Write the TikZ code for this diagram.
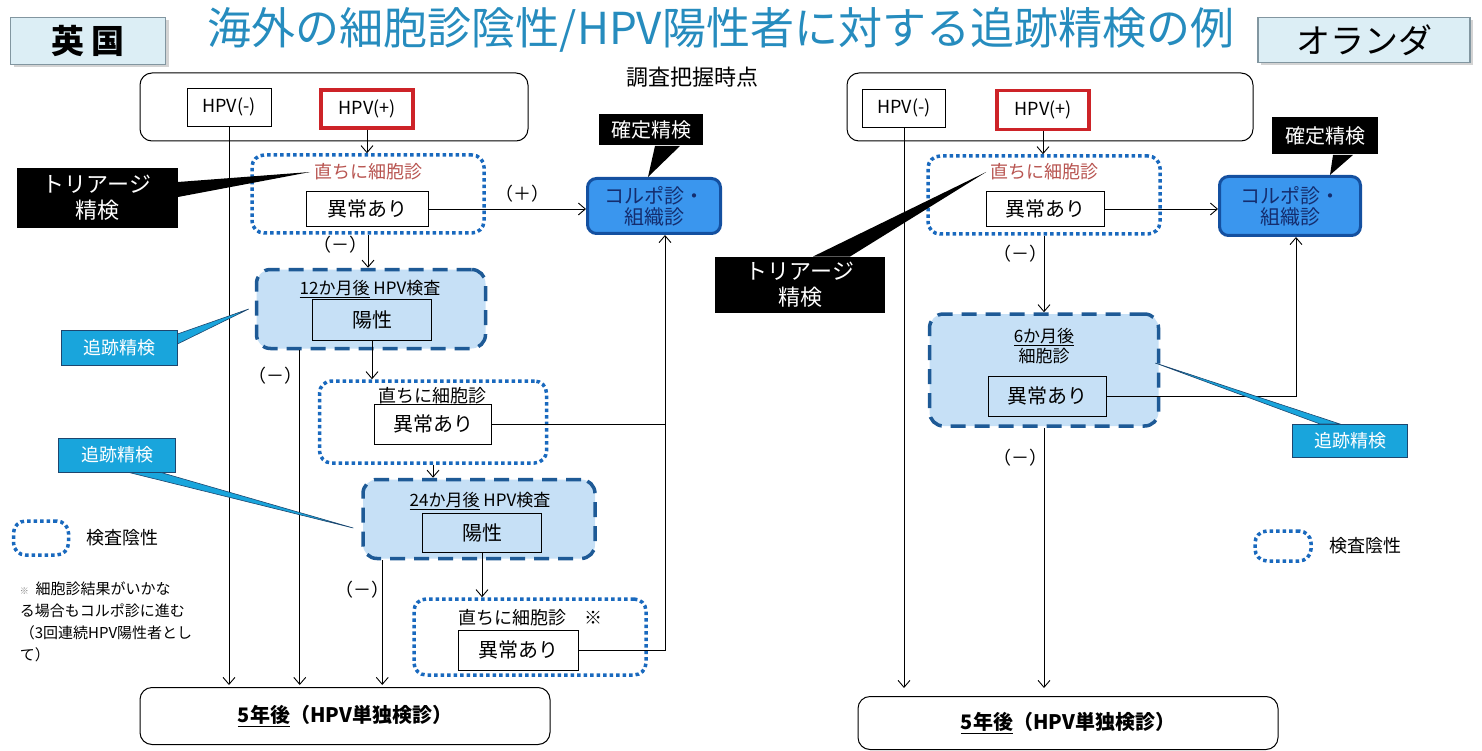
\documentclass[tikz,border=0pt]{standalone}
\usepackage{fontspec}
\setmainfont{Noto Sans CJK JP}
\usetikzlibrary{arrows.meta,shadows}
\definecolor{titleblue}{RGB}{38,140,190}
\definecolor{ctryfill}{RGB}{220,238,245}
\definecolor{ctryline}{RGB}{130,150,160}
\definecolor{dotblue}{RGB}{25,105,190}
\definecolor{dashblue}{RGB}{30,90,150}
\definecolor{dashfill}{RGB}{198,224,246}
\definecolor{colpofill}{RGB}{58,150,238}
\definecolor{colpoline}{RGB}{20,80,160}
\definecolor{colpotext}{RGB}{20,45,110}
\definecolor{trackcyan}{RGB}{25,165,220}
\definecolor{trackline}{RGB}{30,70,110}
\definecolor{hpvred}{RGB}{205,35,40}
\definecolor{cytored}{RGB}{184,84,80}

\begin{document}
\begin{tikzpicture}[x=1pt,y=-1pt,line width=0.9pt,
  >={Straight Barb[length=7pt,width=12pt]},
  ctry/.style={draw=ctryline,fill=ctryfill,line width=1.2pt,
    drop shadow={shadow xshift=3pt,shadow yshift=-3pt,opacity=0.35}},
  frame/.style={draw,rounded corners=12pt,line width=1pt},
  box/.style={draw,fill=white,inner sep=0pt,font=\fontsize{20}{24}\selectfont},
  small/.style={font=\fontsize{18}{22}\selectfont},
  dotbox/.style={draw=dotblue,fill=white,line width=3.5pt,
    dash pattern=on 3.5pt off 3pt,rounded corners=12pt},
  dashbox/.style={draw=dashblue,fill=dashfill,line width=3.5pt,
    dash pattern=on 15pt off 9pt,rounded corners=14pt},
  colpo/.style={draw=colpoline,fill=colpofill,line width=3pt,rounded corners=9pt,
    text=colpotext,align=center,font=\fontsize{20}{21}\selectfont},
  blackbox/.style={fill=black,text=white,align=center,inner sep=0pt},
  track/.style={draw=trackline,fill=trackcyan,text=white,line width=1pt,
    inner sep=0pt,font=\fontsize{18}{22}\selectfont},
  lbl/.style={font=\fontsize{18}{22}\selectfont}]
\useasboundingbox (0,0) rectangle (1482,751);

% heading
\node[ctry,minimum width=155,minimum height=47,font=\fontsize{33}{36}\selectfont\bfseries] (uk) at (88,41) {英 国};
\node[ctry,minimum width=212,minimum height=45,font=\fontsize{34}{37}\selectfont] (nl) at (1364,40) {オランダ};
\node[text=titleblue,font=\fontsize{44}{48}\selectfont] (title) at (721,30) {海外の細胞診陰性/HPV陽性者に対する追跡精検の例};
\node[font=\fontsize{22}{24}\selectfont] (survey) at (692,77) {調査把握時点};

% UK
\node[frame,minimum width=388,minimum height=68] (top1) at (334,107) {};
\node[box,small,minimum width=84,minimum height=38] (hpvm1) at (229,107) {HPV(-)};
\node[box,small,draw=hpvred,line width=3.5pt,minimum width=92,minimum height=38] (hpvp1) at (367,109) {HPV(+)};
\node[dotbox,minimum width=232,minimum height=78] (dot1) at (368,194) {};
\node[lbl,text=cytored] (cyto1) at (368,172) {直ちに細胞診};
\node[box,minimum width=122,minimum height=35] (ijo1) at (367,209) {異常あり};
\node[colpo,minimum width=133,minimum height=55] (colpo1) at (654,206) {コルポ診・\\組織診};
\node[blackbox,minimum width=104,minimum height=31,font=\fontsize{20}{22}\selectfont] (conf1) at (651,130) {確定精検};
\node[blackbox,minimum width=161,minimum height=60,font=\fontsize{22}{26}\selectfont] (tri1) at (97,198) {トリアージ\\精検};
\node[lbl] (plus1) at (522,194) {（＋）};
\node[lbl] (minus1) at (340,245) {（－）};

\node[dashbox,minimum width=229,minimum height=79] (yr12) at (371,309) {};
\node[font=\fontsize{17}{20}\selectfont] (yr12t) at (370,289) {\underline{12か月後} HPV検査};
\node[box,fill=dashfill,minimum width=119,minimum height=41] (yos1) at (372,320) {陽性};
\node[track,minimum width=116,minimum height=35] (trk1) at (119,348) {追跡精検};
\node[lbl] (minus2) at (275,376) {（－）};

\node[dotbox,minimum width=227,minimum height=82] (dot2) at (433,422) {};
\node[lbl] (cyto2) at (432,396) {直ちに細胞診};
\node[box,minimum width=117,minimum height=40] (ijo2) at (433,424) {異常あり};

\node[dashbox,minimum width=232,minimum height=79] (yr24) at (479,519) {};
\node[font=\fontsize{17}{20}\selectfont] (yr24t) at (480,501) {\underline{24か月後} HPV検査};
\node[box,fill=dashfill,minimum width=119,minimum height=39] (yos2) at (482,533) {陽性};
\node[track,minimum width=117,minimum height=34] (trk2) at (117,455) {追跡精検};
\node[lbl] (minus3) at (362,590) {（－）};

\node[dotbox,minimum width=232,minimum height=76] (dot3) at (530,637) {};
\node[lbl] (cyto3) at (530,618) {直ちに細胞診　※};
\node[box,minimum width=120,minimum height=40] (ijo3) at (518,650) {異常あり};

\node[frame,minimum width=410,minimum height=57,font=\fontsize{20}{24}\selectfont\bfseries] (five1) at (345,716) {\underline{5年後}（HPV単独検診）};

\node[dotbox,minimum width=55,minimum height=34] (leg1) at (41,538) {};
\node[lbl] (leg1t) at (122,538) {検査陰性};
\node[anchor=north west,align=left,font=\fontsize{15}{22}\selectfont] (note) at (16,578)
  {{\color{gray}\fontsize{9}{22}\selectfont ※}\ \ 細胞診結果がいかな\\る場合もコルポ診に進む\\（3回連続HPV陽性者とし\\て）};

% Netherlands
\node[frame,minimum width=406,minimum height=68] (top2) at (1050,107) {};
\node[box,small,minimum width=83,minimum height=38] (hpvm2) at (904,108) {HPV(-)};
\node[box,small,draw=hpvred,line width=3.5pt,minimum width=92,minimum height=39] (hpvp2) at (1043,110) {HPV(+)};
\node[dotbox,minimum width=232,minimum height=78] (dot4) at (1044,195) {};
\node[lbl,text=cytored] (cyto4) at (1044,172) {直ちに細胞診};
\node[box,minimum width=118,minimum height=35] (ijo4) at (1045,209) {異常あり};
\node[colpo,minimum width=141,minimum height=59] (colpo2) at (1290,206) {コルポ診・\\組織診};
\node[blackbox,minimum width=106,minimum height=37,font=\fontsize{20}{22}\selectfont] (conf2) at (1325,136) {確定精検};
\node[blackbox,minimum width=170,minimum height=56,font=\fontsize{22}{26}\selectfont] (tri2) at (800,285) {トリアージ\\精検};
\node[lbl] (minus4) at (1020,254) {（－）};

\node[dashbox,minimum width=229,minimum height=112] (m6) at (1044,370) {};
\node[align=center,font=\fontsize{17}{20}\selectfont] (m6t) at (1044,346) {\underline{6か月後}\\細胞診};
\node[box,fill=dashfill,minimum width=118,minimum height=40] (ijo5) at (1047,396) {異常あり};
\node[track,minimum width=115,minimum height=33] (trk3) at (1350,441) {追跡精検};
\node[lbl] (minus5) at (1020,458) {（－）};

\node[frame,minimum width=420,minimum height=53,font=\fontsize{20}{24}\selectfont\bfseries] (five2) at (1068,723) {\underline{5年後}（HPV単独検診）};

\node[dotbox,minimum width=56,minimum height=30] (leg2) at (1283,546) {};
\node[lbl] (leg2t) at (1365,546) {検査陰性};

% connectors UK
\coordinate (colx) at ([xshift=11pt]colpo1.south);
\draw[->,shorten >=2pt] (hpvm1.south) -- (hpvm1.south |- five1.north);
\draw[->] (hpvp1.south) -- (hpvp1.south |- dot1.north);
\draw[->] (ijo1.east) -- (ijo1.east -| colpo1.west);
\draw[->] (dot1.south) -- (dot1.south |- yr12.north);
\draw[->,shorten >=2pt] ([xshift=45pt]yr12.south west) -- ([xshift=45pt]yr12.south west |- five1.north);
\draw[->] (yos1.south) -- (yos1.south |- dot2.north);
\draw (ijo2.east) -- (ijo2.east -| colx);
\draw[->] (dot2.south) -- (dot2.south |- yr24.north);
\draw[->,shorten >=2pt] ([xshift=21pt]yr24.south west) -- ([xshift=21pt]yr24.south west |- five1.north);
\draw[->] (yos2.south) -- (yos2.south |- dot3.north);
\draw[->] (ijo3.east) -| (colx);

% connectors Netherlands
\draw[->,shorten >=8pt] (hpvm2.south) -- (hpvm2.south |- five2.north);
\draw[->] (hpvp2.south) -- (hpvp2.south |- dot4.north);
\draw[->] (ijo4.east) -- (ijo4.east -| colpo2.west);
\draw[->] (dot4.south) -- (dot4.south |- m6.north);
\draw[->] (ijo5.east) -| ([xshift=6pt]colpo2.south);
\draw[->,shorten >=8pt] (m6.south) -- (m6.south |- five2.north);

% callout tails
\fill ([yshift=16pt]tri1.east) -- ([yshift=1pt]tri1.east) -- (cyto1.west) -- cycle;
\fill ([xshift=4pt]conf1.south) -- ([xshift=29pt]conf1.south) -- ([xshift=-3pt]conf1.south |- colpo1.north) -- cycle;
\fill ([xshift=13pt]tri2.north) -- ([xshift=50pt]tri2.north) -- (cyto4.west) -- cycle;
\fill ([xshift=8pt]conf2.south) -- ([xshift=28pt]conf2.south) -- ([xshift=5pt]conf2.south |- colpo2.north) -- cycle;
\filldraw[fill=trackcyan,draw=trackline,line width=0.6pt] ([yshift=14pt]trk1.east) -- ([yshift=4pt]trk1.east) -- ([xshift=-6pt]yr12.west) -- cycle;
\filldraw[fill=trackcyan,draw=trackline,line width=0.6pt] ([xshift=12pt]trk2.south) -- ([xshift=44pt]trk2.south) -- ([xshift=-8pt,yshift=-9pt]yr24.west) -- cycle;
\filldraw[fill=trackcyan,draw=trackline,line width=0.6pt] ([xshift=-30pt]trk3.north) -- ([xshift=-10pt]trk3.north) -- ([xshift=-5pt,yshift=7pt]m6.east) -- cycle;
\end{tikzpicture}
\end{document}
